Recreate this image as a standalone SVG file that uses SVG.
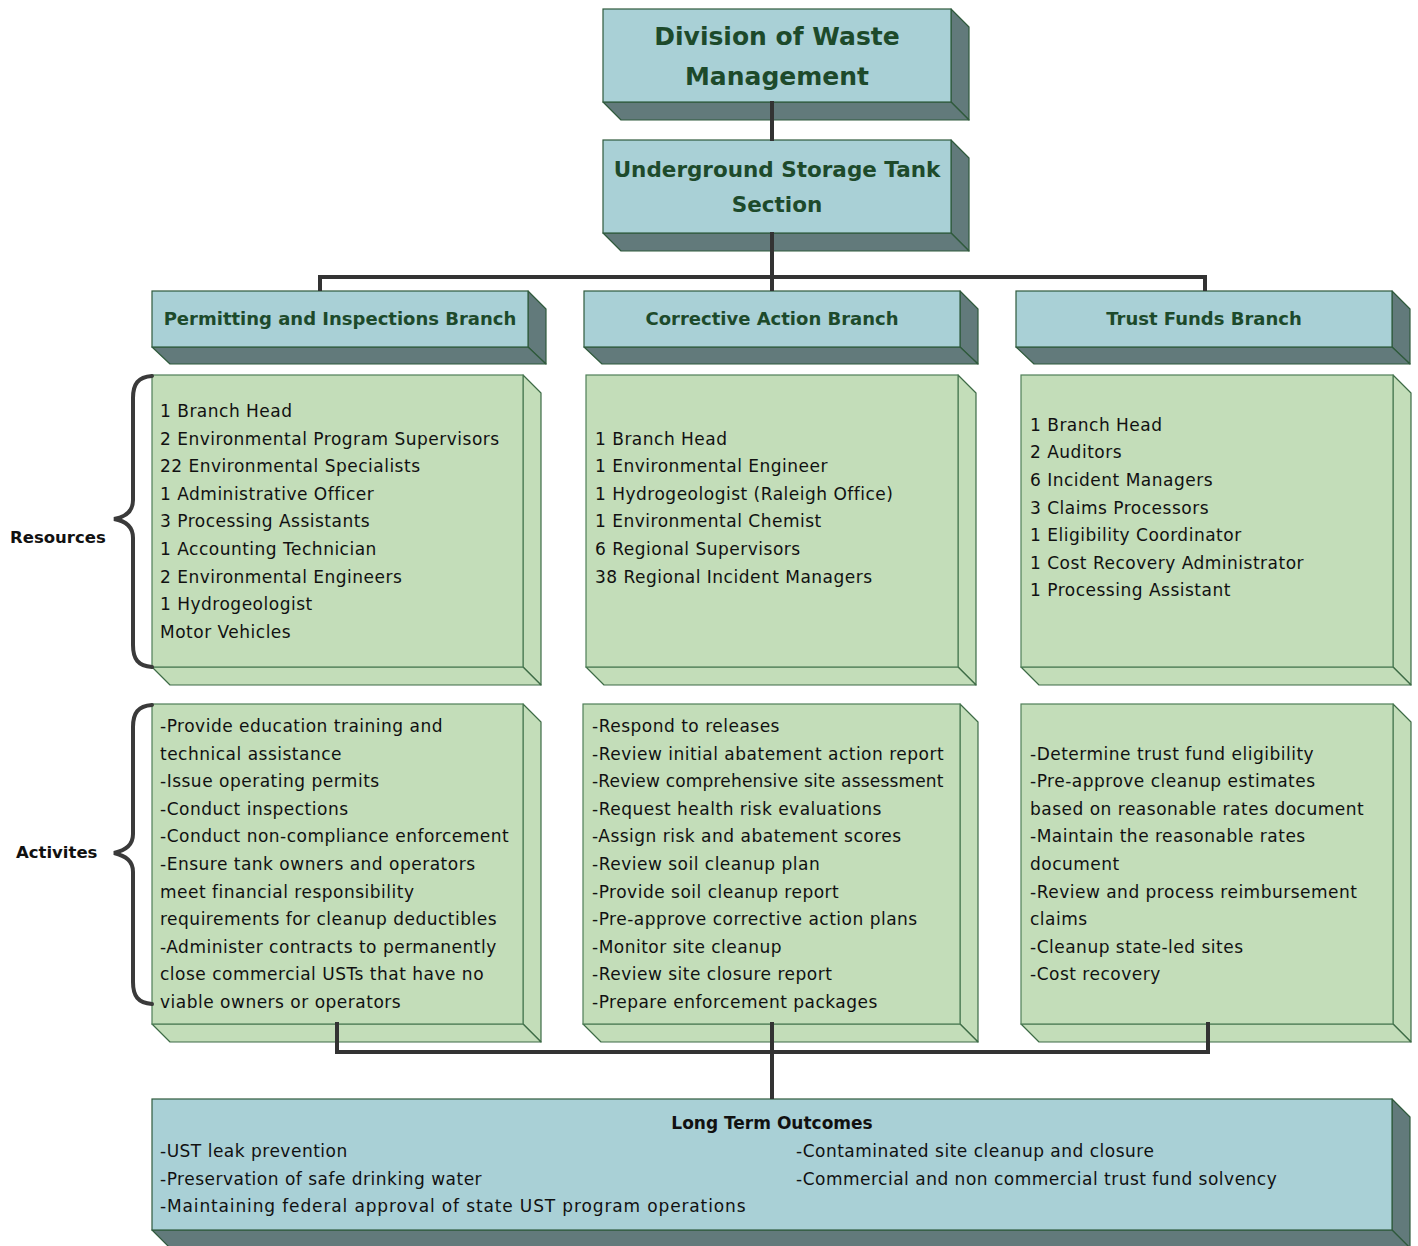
<svg xmlns="http://www.w3.org/2000/svg" width="1418" height="1246" viewBox="0 0 1418 1246">
<style>
.bf{fill:#a9d0d6;stroke:#2f5a3c;stroke-width:1.2}
.bs{fill:#627a7b;stroke:#2f5a3c;stroke-width:1.2;stroke-linejoin:round}
.gf{fill:#c3ddb9;stroke:#4f7f58;stroke-width:1.2}
.gs{fill:#c3ddb9;stroke:#3d6b46;stroke-width:1.2;stroke-linejoin:round}
.t{font-family:"DejaVu Sans","Liberation Sans",sans-serif;font-weight:bold;fill:#1d4a2b}
.b{font-family:"DejaVu Sans","Liberation Sans",sans-serif;font-size:17px;letter-spacing:0.5px;fill:#111}
.h{font-family:"DejaVu Sans","Liberation Sans",sans-serif;font-size:17px;font-weight:bold;fill:#111}
.lbl{font-family:"DejaVu Sans","Liberation Sans",sans-serif;font-size:16.5px;font-weight:bold;fill:#111}
.c{fill:none;stroke:#333;stroke-width:4}
.br{fill:none;stroke:#3a3a3a;stroke-width:4;stroke-linecap:round}
</style>

<g id="division">
<polygon class="bs" points="951,9 969,27 969,120 951,102"/>
<polygon class="bs" points="603,102 951,102 969,120 621,120"/>
<rect class="bf" x="603" y="9" width="348" height="93"/>
<text class="t" font-size="25" text-anchor="middle" x="777" y="45">Division of Waste</text>
<text class="t" font-size="25" text-anchor="middle" x="777" y="85">Management</text>
</g>

<g id="ust-section">
<polygon class="bs" points="951,140 969,158 969,251 951,233"/>
<polygon class="bs" points="603,233 951,233 969,251 621,251"/>
<rect class="bf" x="603" y="140" width="348" height="93"/>
<text class="t" font-size="21.5" text-anchor="middle" x="777" y="177">Underground Storage Tank</text>
<text class="t" font-size="21.5" text-anchor="middle" x="777" y="212">Section</text>
</g>

<g id="permitting-branch">
<polygon class="bs" points="528,291 546,309 546,364 528,347"/>
<polygon class="bs" points="152,347 528,347 546,364 170,364"/>
<rect class="bf" x="152" y="291" width="376" height="56"/>
<text class="t" font-size="18" text-anchor="middle" x="340" y="325">Permitting and Inspections Branch</text>
</g>

<g id="corrective-branch">
<polygon class="bs" points="960,291 978,309 978,364 960,347"/>
<polygon class="bs" points="584,347 960,347 978,364 602,364"/>
<rect class="bf" x="584" y="291" width="376" height="56"/>
<text class="t" font-size="18" text-anchor="middle" x="772" y="325">Corrective Action Branch</text>
</g>

<g id="trust-branch">
<polygon class="bs" points="1392,291 1410,309 1410,364 1392,347"/>
<polygon class="bs" points="1016,347 1392,347 1410,364 1034,364"/>
<rect class="bf" x="1016" y="291" width="376" height="56"/>
<text class="t" font-size="18" text-anchor="middle" x="1204" y="325">Trust Funds Branch</text>
</g>

<g id="permitting-resources">
<polygon class="gs" points="523,375 541,393 541,685 523,667"/>
<polygon class="gs" points="152,667 523,667 541,685 170,685"/>
<rect class="gf" x="152" y="375" width="371" height="292"/>
<text class="b">
<tspan x="160" y="417">1 Branch Head</tspan>
<tspan x="160" y="444.6">2 Environmental Program Supervisors</tspan>
<tspan x="160" y="472.2">22 Environmental Specialists</tspan>
<tspan x="160" y="499.8">1 Administrative Officer</tspan>
<tspan x="160" y="527.4">3 Processing Assistants</tspan>
<tspan x="160" y="555">1 Accounting Technician</tspan>
<tspan x="160" y="582.6">2 Environmental Engineers</tspan>
<tspan x="160" y="610.2">1 Hydrogeologist</tspan>
<tspan x="160" y="637.8">Motor Vehicles</tspan>
</text>
</g>

<g id="corrective-resources">
<polygon class="gs" points="958,375 976,393 976,685 958,667"/>
<polygon class="gs" points="586,667 958,667 976,685 604,685"/>
<rect class="gf" x="586" y="375" width="372" height="292"/>
<text class="b">
<tspan x="595" y="444.6">1 Branch Head</tspan>
<tspan x="595" y="472.2">1 Environmental Engineer</tspan>
<tspan x="595" y="499.8">1 Hydrogeologist (Raleigh Office)</tspan>
<tspan x="595" y="527.4">1 Environmental Chemist</tspan>
<tspan x="595" y="555">6 Regional Supervisors</tspan>
<tspan x="595" y="582.6">38 Regional Incident Managers</tspan>
</text>
</g>

<g id="trust-resources">
<polygon class="gs" points="1393,375 1411,393 1411,685 1393,667"/>
<polygon class="gs" points="1021,667 1393,667 1411,685 1039,685"/>
<rect class="gf" x="1021" y="375" width="372" height="292"/>
<text class="b">
<tspan x="1030" y="430.8">1 Branch Head</tspan>
<tspan x="1030" y="458.4">2 Auditors</tspan>
<tspan x="1030" y="486">6 Incident Managers</tspan>
<tspan x="1030" y="513.6">3 Claims Processors</tspan>
<tspan x="1030" y="541.2">1 Eligibility Coordinator</tspan>
<tspan x="1030" y="568.8">1 Cost Recovery Administrator</tspan>
<tspan x="1030" y="596.4">1 Processing Assistant</tspan>
</text>
</g>

<g id="permitting-activities">
<polygon class="gs" points="523,704 541,722 541,1042 523,1024"/>
<polygon class="gs" points="152,1024 523,1024 541,1042 170,1042"/>
<rect class="gf" x="152" y="704" width="371" height="320"/>
<text class="b">
<tspan x="160" y="732">-Provide education training and</tspan>
<tspan x="160" y="759.6">technical assistance</tspan>
<tspan x="160" y="787.2">-Issue operating permits</tspan>
<tspan x="160" y="814.8">-Conduct inspections</tspan>
<tspan x="160" y="842.4">-Conduct non-compliance enforcement</tspan>
<tspan x="160" y="870">-Ensure tank owners and operators</tspan>
<tspan x="160" y="897.6">meet financial responsibility</tspan>
<tspan x="160" y="925.2">requirements for cleanup deductibles</tspan>
<tspan x="160" y="952.8">-Administer contracts to permanently</tspan>
<tspan x="160" y="980.4">close commercial USTs that have no</tspan>
<tspan x="160" y="1008">viable owners or operators</tspan>
</text>
</g>

<g id="corrective-activities">
<polygon class="gs" points="960,704 978,722 978,1042 960,1024"/>
<polygon class="gs" points="583,1024 960,1024 978,1042 601,1042"/>
<rect class="gf" x="583" y="704" width="377" height="320"/>
<text class="b">
<tspan x="592" y="732">-Respond to releases</tspan>
<tspan x="592" y="759.6">-Review initial abatement action report</tspan>
</text>
<text class="b" x="592" y="787.2" textLength="352" lengthAdjust="spacing">-Review comprehensive site assessment</text>
<text class="b">
<tspan x="592" y="814.8">-Request health risk evaluations</tspan>
<tspan x="592" y="842.4">-Assign risk and abatement scores</tspan>
<tspan x="592" y="870">-Review soil cleanup plan</tspan>
<tspan x="592" y="897.6">-Provide soil cleanup report</tspan>
<tspan x="592" y="925.2">-Pre-approve corrective action plans</tspan>
<tspan x="592" y="952.8">-Monitor site cleanup</tspan>
<tspan x="592" y="980.4">-Review site closure report</tspan>
<tspan x="592" y="1008">-Prepare enforcement packages</tspan>
</text>
</g>

<g id="trust-activities">
<polygon class="gs" points="1393,704 1411,722 1411,1042 1393,1024"/>
<polygon class="gs" points="1021,1024 1393,1024 1411,1042 1039,1042"/>
<rect class="gf" x="1021" y="704" width="372" height="320"/>
<text class="b">
<tspan x="1030" y="759.6">-Determine trust fund eligibility</tspan>
<tspan x="1030" y="787.2">-Pre-approve cleanup estimates</tspan>
<tspan x="1030" y="814.8">based on reasonable rates document</tspan>
<tspan x="1030" y="842.4">-Maintain the reasonable rates</tspan>
<tspan x="1030" y="870">document</tspan>
<tspan x="1030" y="897.6">-Review and process reimbursement</tspan>
<tspan x="1030" y="925.2">claims</tspan>
<tspan x="1030" y="952.8">-Cleanup state-led sites</tspan>
<tspan x="1030" y="980.4">-Cost recovery</tspan>
</text>
</g>

<g id="outcomes">
<polygon class="bs" points="1392,1099 1410,1117 1410,1248 1392,1230"/>
<polygon class="bs" points="152,1230 1392,1230 1410,1248 170,1248"/>
<rect class="bf" x="152" y="1099" width="1240" height="131"/>
<text class="h" text-anchor="middle" x="772" y="1129">Long Term Outcomes</text>
<text class="b">
<tspan x="160" y="1157">-UST leak prevention</tspan>
<tspan x="160" y="1184.6">-Preservation of safe drinking water</tspan>
<tspan x="796" y="1157">-Contaminated site cleanup and closure</tspan>
<tspan x="796" y="1184.6">-Commercial and non commercial trust fund solvency</tspan>
</text>
<text class="b" x="160" y="1212.2" textLength="586" lengthAdjust="spacing">-Maintaining federal approval of state UST program operations</text>
</g>

<g id="resources-label">
<path class="br" d="M152,376 C138,377 133,384 133,398 L133,500 C133,511 126,517 114,519 C126,521 133,527 133,538 L133,645 C133,659 138,666 152,667"/>
<text class="lbl" x="10" y="543">Resources</text>
</g>

<g id="activities-label">
<path class="br" d="M152,705 C138,706 133,713 133,727 L133,834 C133,845 126,850 114,853 C126,856 133,861 133,872 L133,982 C133,996 138,1003 152,1004"/>
<text class="lbl" x="16" y="858">Activites</text>
</g>

<g id="connectors">
<line class="c" x1="772" y1="101" x2="772" y2="141"/>
<line class="c" x1="772" y1="232" x2="772" y2="277"/>
<polyline class="c" points="320,291 320,277 1205,277 1205,291"/>
<line class="c" x1="772" y1="277" x2="772" y2="291"/>
<polyline class="c" points="337,1022 337,1052 1208,1052 1208,1022"/>
<line class="c" x1="772" y1="1022" x2="772" y2="1099"/>
</g>
</svg>
